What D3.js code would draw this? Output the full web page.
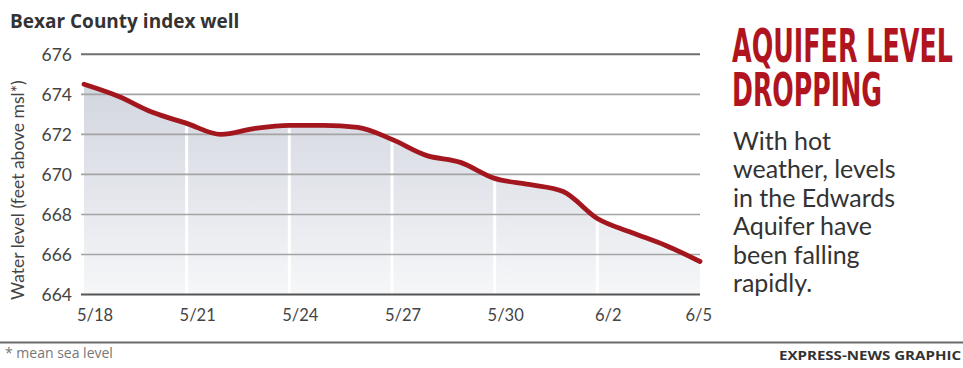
<!DOCTYPE html>
<html>
<head>
<meta charset="utf-8">
<script src="https://cdn.jsdelivr.net/npm/d3@7"></script>
<style>
  html, body { margin: 0; padding: 0; background: #fff; }
  svg { display: block; }
</style>
</head>
<body>
<svg id="chart" width="963" height="368"></svg>
<script>
// ---- data ----
const dates = ["5/18","5/19","5/20","5/21","5/22","5/23","5/24","5/25","5/26","5/27",
               "5/28","5/29","5/30","5/31","6/1","6/2","6/3","6/4","6/5"];
const levels = [674.5, 673.9, 673.1, 672.55, 672.0, 672.3, 672.45, 672.45, 672.35, 671.75,
                670.95, 670.6, 669.8, 669.5, 669.15, 667.8, 667.1, 666.45, 665.65];
const xTickLabels = ["5/18","5/21","5/24","5/27","5/30","6/2","6/5"];
const yTicks = [664, 666, 668, 670, 672, 674, 676];
const chartTitle = "Bexar County index well";
const yTitle = "Water level (feet above msl*)";
const headline = ["AQUIFER LEVEL", "DROPPING"];
const bodyLines = ["With hot", "weather, levels", "in the Edwards", "Aquifer have", "been falling", "rapidly."];
const footnote = "* mean sea level";
const credit = "EXPRESS-NEWS GRAPHIC";

// ---- layout ----
const svg = d3.select("#chart");
const x = d3.scaleLinear().domain([0, dates.length - 1]).range([84, 700]);
const y = d3.scaleLinear().domain([664, 676]).range([294.5, 54.3]);
const gridX0 = 81, gridX1 = 700;

const defs = svg.append("defs");
const grad = defs.append("linearGradient").attr("id", "fillGrad")
  .attr("x1", 0).attr("y1", 0).attr("x2", 0).attr("y2", 1);
grad.append("stop").attr("offset", "0%").attr("stop-color", "#d2d6df");
grad.append("stop").attr("offset", "55%").attr("stop-color", "#e5e7ed");
grad.append("stop").attr("offset", "100%").attr("stop-color", "#f6f7f9");

const data = dates.map((d, i) => ({ i, d, v: levels[i] }));

// area
const area = d3.area().x(d => x(d.i)).y0(y(664)).y1(d => y(d.v)).curve(d3.curveMonotoneX);
svg.append("path").datum(data).attr("d", area)
  .attr("fill", "url(#fillGrad)");

// white vertical separators at ticks
const tickIdx = xTickLabels.map(l => dates.indexOf(l));
svg.append("g").selectAll("line")
  .data(tickIdx.filter(i => i > 0 && i < dates.length - 1))
  .join("line")
  .attr("x1", i => x(i)).attr("x2", i => x(i))
  .attr("y1", i => y(levels[i]) + 3).attr("y2", y(664))
  .attr("stroke", "#fff").attr("stroke-width", 3);

// gridlines
svg.append("g").selectAll("line")
  .data(yTicks)
  .join("line")
  .attr("x1", gridX0).attr("x2", gridX1)
  .attr("y1", d => y(d)).attr("y2", d => y(d))
  .attr("stroke", d => d === 664 ? "#555" : (d === 676 ? "#6e6e6e" : "#a4a4a4"))
  .attr("stroke-width", d => (d === 664 || d === 676) ? 2 : 1.6);

// y tick labels
svg.append("g").selectAll("text")
  .data(yTicks)
  .join("text")
  .attr("x", 72).attr("y", d => y(d))
  .attr("dy", "0.36em")
  .attr("text-anchor", "end")
  .attr("font-family", "Lato, 'Open Sans', sans-serif")
  .attr("font-size", 17.5)
  .attr("fill", "#444")
  .text(d => d);

// x tick labels
svg.append("g").selectAll("text")
  .data(tickIdx)
  .join("text")
  .attr("x", (i, k) => k === tickIdx.length - 1 ? x(i) + 12 : x(i) + 11)
  .attr("y", 321)
  .attr("text-anchor", (i, k) => k === tickIdx.length - 1 ? "end" : "middle")
  .attr("font-family", "Lato, 'Open Sans', sans-serif")
  .attr("font-size", 16.5)
  .attr("fill", "#444")
  .text(i => dates[i]);

// line
const line = d3.line().x(d => x(d.i)).y(d => y(d.v)).curve(d3.curveMonotoneX);
svg.append("path").datum(data).attr("d", line)
  .attr("fill", "none").attr("stroke", "#a3161e")
  .attr("stroke-width", 4.8).attr("stroke-linejoin", "round").attr("stroke-linecap", "round");

// chart title
svg.append("text").attr("x", 10).attr("y", 28)
  .attr("font-family", "'Open Sans', sans-serif").attr("font-weight", "bold")
  .attr("font-size", 19).attr("fill", "#333")
  .text(chartTitle);

// y-axis title (starts at the bottom, reading upwards)
svg.append("text")
  .attr("transform", "translate(24,300) rotate(-90)")
  .attr("text-anchor", "start")
  .attr("font-family", "Lato, 'Open Sans', sans-serif")
  .attr("font-size", 17.5).attr("fill", "#444")
  .text(yTitle);

// headline (very condensed: squeeze horizontally to the reference width)
const headWidths = [221, 150];
svg.append("g").selectAll("text")
  .data(headline)
  .join("text")
  .attr("font-family", "'Liberation Sans Narrow', 'DejaVu Sans Condensed', sans-serif")
  .attr("font-weight", "bold")
  .attr("font-size", 47)
  .attr("fill", "#b0141e")
  .text(d => d)
  .each(function(d, i) {
    const w = this.getComputedTextLength();
    const s = headWidths[i] / w;
    d3.select(this).attr("transform", `translate(732,${62 + i * 44}) scale(${s},1)`);
  });

// body text
svg.append("g").selectAll("text")
  .data(bodyLines)
  .join("text")
  .attr("x", 733).attr("y", (d, i) => 150 + i * 28.4)
  .attr("font-family", "Lato, 'Open Sans', sans-serif")
  .attr("font-size", 25)
  .attr("fill", "#333")
  .text(d => d);

// footer rule
svg.append("line").attr("x1", 0).attr("x2", 963).attr("y1", 342.5).attr("y2", 342.5)
  .attr("stroke", "#6a6a6a").attr("stroke-width", 2);

svg.append("text").attr("x", 5).attr("y", 358)
  .attr("font-family", "'Open Sans', sans-serif").attr("font-size", 14)
  .attr("fill", "#777").text(footnote);

svg.append("text").attr("x", 961).attr("y", 360)
  .attr("text-anchor", "end")
  .attr("font-family", "'Open Sans', sans-serif").attr("font-weight", "bold")
  .attr("font-size", 12.5).attr("fill", "#333")
  .attr("textLength", 182).attr("lengthAdjust", "spacingAndGlyphs")
  .text(credit);
</script>
</body>
</html>
